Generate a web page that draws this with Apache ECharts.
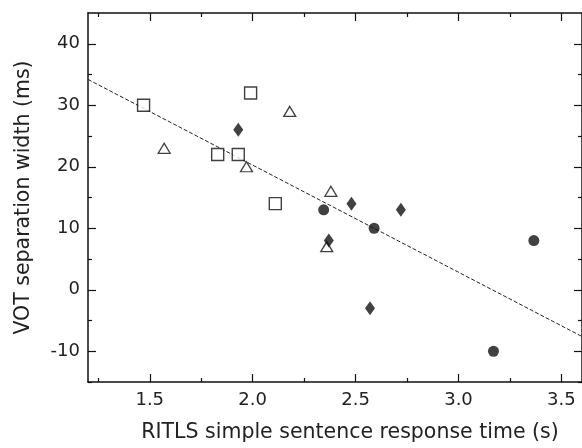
<!DOCTYPE html>
<html><head><meta charset="utf-8">
<script src="https://cdn.jsdelivr.net/npm/echarts@6/dist/echarts.min.js"></script>
<style>html,body{margin:0;padding:0;background:#fff}#c{width:582px;height:448px}</style>
</head><body><div id="c"></div>
<script>
const squares = [[1.47,30],[1.83,22],[1.93,22],[1.99,32],[2.11,14]];
const triangles = [[1.57,23],[1.97,20],[2.18,29],[2.38,16],[2.36,7]];
const diamonds = [[1.93,26],[2.48,14],[2.37,8],[2.72,13],[2.57,-3]];
const circles = [[2.345,13],[2.59,10],[3.366,8],[3.17,-10]];
const fitLine = [[1.2,34.2],[3.6,-7.6]];
const xTicks = [1.5,2.0,2.5,3.0,3.5];
const xMinorTicks = [1.25,1.75,2.25,2.75,3.25];
const yTicks = [-10,0,10,20,30,40];
const yMinorTicks = [-15,-5,5,15,25,35];
const xTitle = 'RITLS simple sentence response time (s)';
const yTitle = 'VOT separation width (ms)';

const font = 'DejaVu Sans, Verdana, sans-serif';
const X_MIN = 1.2, X_MAX = 3.6, Y_MIN = -15, Y_MAX = 45;
const line = {show:true, onZero:false, lineStyle:{color:'#111', width:1.5}};
const noLine = {show:false, onZero:false};
const tickStyle = {color:'#111', width:1.2};
function xa(opts){ return Object.assign({type:'value', min:X_MIN, max:X_MAX, splitLine:{show:false}, axisLabel:{show:false}}, opts); }
function ya(opts){ return Object.assign({type:'value', min:Y_MIN, max:Y_MAX, splitLine:{show:false}, axisLabel:{show:false}}, opts); }
const chart = echarts.init(document.getElementById('c'), null, {renderer:'canvas'});
chart.setOption({
  animation:false,
  grid:{left:88, top:13, width:496, height:371},
  xAxis:[
    xa({position:'bottom', axisLine:line,
      axisTick:{show:true, inside:true, length:8, lineStyle:tickStyle, customValues:xTicks},
      axisLabel:{show:true, color:'#222', fontSize:18, fontFamily:font, margin:9,
        customValues:xTicks, formatter:v=>v.toFixed(1)},
      name:xTitle, nameLocation:'middle', nameGap:40,
      nameTextStyle:{color:'#222', fontSize:20.5, fontFamily:font, padding:[0,0,0,30]}}),
    xa({position:'bottom', axisLine:noLine,
      axisTick:{show:true, inside:true, length:4, lineStyle:tickStyle, customValues:xMinorTicks}}),
    xa({position:'top', axisLine:line,
      axisTick:{show:true, inside:true, length:8, lineStyle:tickStyle, customValues:xTicks}}),
    xa({position:'top', axisLine:noLine,
      axisTick:{show:true, inside:true, length:4, lineStyle:tickStyle, customValues:xMinorTicks}})
  ],
  yAxis:[
    ya({position:'left', axisLine:line,
      axisTick:{show:true, inside:true, length:8, lineStyle:tickStyle, customValues:yTicks},
      axisLabel:{show:true, color:'#222', fontSize:18, fontFamily:font, margin:8,
        customValues:yTicks, formatter:v=>String(v)},
      name:yTitle, nameLocation:'middle', nameGap:54,
      nameTextStyle:{color:'#222', fontSize:20.5, fontFamily:font}}),
    ya({position:'left', axisLine:noLine,
      axisTick:{show:true, inside:true, length:4, lineStyle:tickStyle, customValues:yMinorTicks}}),
    ya({position:'right', axisLine:line,
      axisTick:{show:true, inside:true, length:8, lineStyle:tickStyle, customValues:yTicks}}),
    ya({position:'right', axisLine:noLine,
      axisTick:{show:true, inside:true, length:4, lineStyle:tickStyle, customValues:yMinorTicks}})
  ],
  series:[
    {type:'line', data:fitLine, symbol:'none', silent:true,
      lineStyle:{color:'#222', width:1, type:[4,2]}, z:1},
    {type:'scatter', data:squares, symbol:'rect', symbolSize:12,
      itemStyle:{color:'#fff', borderColor:'#111', borderWidth:1.4}, z:3},
    {type:'scatter', data:triangles, symbol:'triangle', symbolSize:[12,10],
      itemStyle:{color:'#fff', borderColor:'#111', borderWidth:1.3}, z:3},
    {type:'scatter', data:diamonds, symbol:'diamond', symbolSize:[10,14],
      itemStyle:{color:'#111'}, z:4},
    {type:'scatter', data:circles, symbol:'circle', symbolSize:11,
      itemStyle:{color:'#111'}, z:4}
  ]
});
</script></body></html>
